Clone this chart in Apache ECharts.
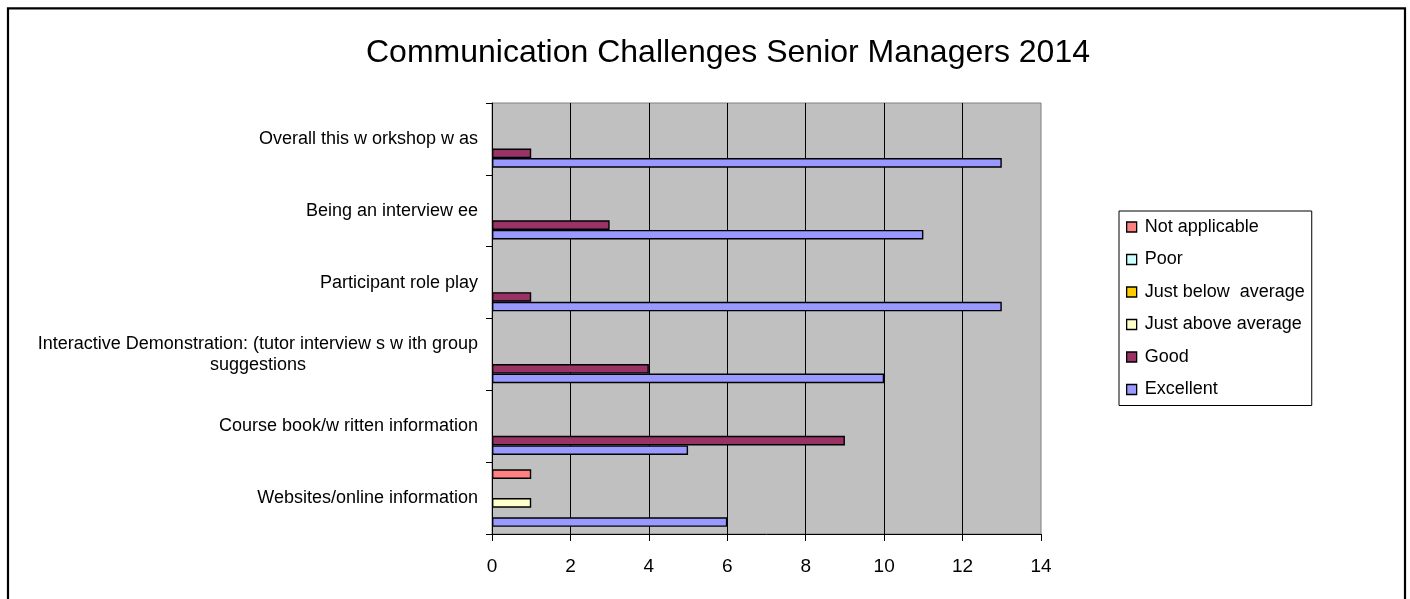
<!DOCTYPE html>
<html>
<head>
<meta charset="utf-8">
<script src="https://cdn.jsdelivr.net/npm/echarts@6/dist/echarts.min.js"></script>
<style>
html,body{margin:0;padding:0;background:#fff;}
#chart{width:1410px;height:599px;}
</style>
</head>
<body>
<div id="chart"></div>
<script>
// Categories listed bottom to top (as drawn)
const categories = [
  'Websites/online information',
  'Course book/w ritten information',
  'Interactive Demonstration: (tutor interview s w ith group\nsuggestions',
  'Participant role play',
  'Being an interview ee',
  'Overall this w orkshop w as'
];
const seriesNames = ['Not applicable', 'Poor', 'Just below  average', 'Just above average', 'Good', 'Excellent'];
const notApplicable = [1, 0, 0, 0, 0, 0];
const poor = [0, 0, 0, 0, 0, 0];
const justBelowAverage = [0, 0, 0, 0, 0, 0];
const justAboveAverage = [1, 0, 0, 0, 0, 0];
const good = [0, 9, 4, 1, 3, 1];
const excellent = [6, 5, 10, 13, 11, 13];
const xTicks = [0, 2, 4, 6, 8, 10, 12, 14];

const seriesData = [notApplicable, poor, justBelowAverage, justAboveAverage, good, excellent];
const colors = ['#FF8080', '#CCFFFF', '#FFCC00', '#FFFFCC', '#993366', '#9999FF'];
const FONT = '"Liberation Sans", Arial, sans-serif';

const chart = echarts.init(document.getElementById('chart'), null, {renderer: 'canvas'});
chart.setOption({
  animation: false,
  backgroundColor: '#ffffff',
  title: {
    text: 'Communication Challenges Senior Managers 2014',
    left: 361,
    top: 32,
    textStyle: {fontFamily: FONT, fontSize: 32, fontWeight: 'normal', color: '#000'}
  },
  graphic: [{
    type: 'rect',
    shape: {x: 8, y: 8.3, width: 1397, height: 700},
    style: {fill: 'none', stroke: '#000', lineWidth: 2.2},
    silent: true, z: 100
  }],
  legend: {
    orient: 'vertical',
    left: 1119,
    top: 211,
    padding: 7,
    itemGap: 14.5,
    itemWidth: 10,
    itemHeight: 10,
    icon: 'rect',
    borderColor: '#000',
    borderWidth: 1,
    backgroundColor: '#fff',
    itemStyle: {borderColor: '#000', borderWidth: 1.3},
    textStyle: {fontFamily: FONT, fontSize: 18, color: '#000', padding: [0, 0, 0, 3]},
    data: seriesNames
  },
  grid: {
    left: 492, right: 369, top: 103, bottom: 65,
    show: true, backgroundColor: '#C0C0C0', borderColor: '#808080', borderWidth: 1,
    containLabel: false
  },
  xAxis: {
    type: 'value',
    min: xTicks[0], max: xTicks[xTicks.length - 1], interval: 2,
    axisLine: {show: true, lineStyle: {color: '#000', width: 1}},
    axisTick: {show: true, length: 7, lineStyle: {color: '#000'}},
    axisLabel: {fontFamily: FONT, fontSize: 19, color: '#000', margin: 23,
      formatter: v => xTicks.includes(v) ? String(v) : ''},
    splitLine: {show: true, showMinLine: false, showMaxLine: false, lineStyle: {color: '#000', width: 1}}
  },
  yAxis: {
    type: 'category',
    data: categories,
    boundaryGap: true,
    axisLine: {show: true, onZero: false, lineStyle: {color: '#000', width: 1}},
    axisTick: {show: true, length: 6, alignWithLabel: false, lineStyle: {color: '#000'}},
    axisLabel: {
      fontFamily: FONT, fontSize: 18, color: '#000', margin: 14, lineHeight: 21,
      formatter: v => v.indexOf('\n') >= 0 ? v.split('\n').map(s => '{c|' + s + '}').join('\n') : v,
      rich: {c: {align: 'center', fontFamily: FONT, fontSize: 18, color: '#000', lineHeight: 21}}
    },
    splitLine: {show: false}
  },
  series: seriesNames.map((name, i) => ({
    name: name,
    type: 'bar',
    // zero counts are not drawn (no visible bar in the reference)
    data: seriesData[i].map(v => (v === 0 ? null : v)),
    barGap: '0%',
    barCategoryGap: '20%',
    z: 3,
    itemStyle: {color: colors[i], borderColor: '#000', borderWidth: 1.4}
  }))
});
</script>
</body>
</html>
